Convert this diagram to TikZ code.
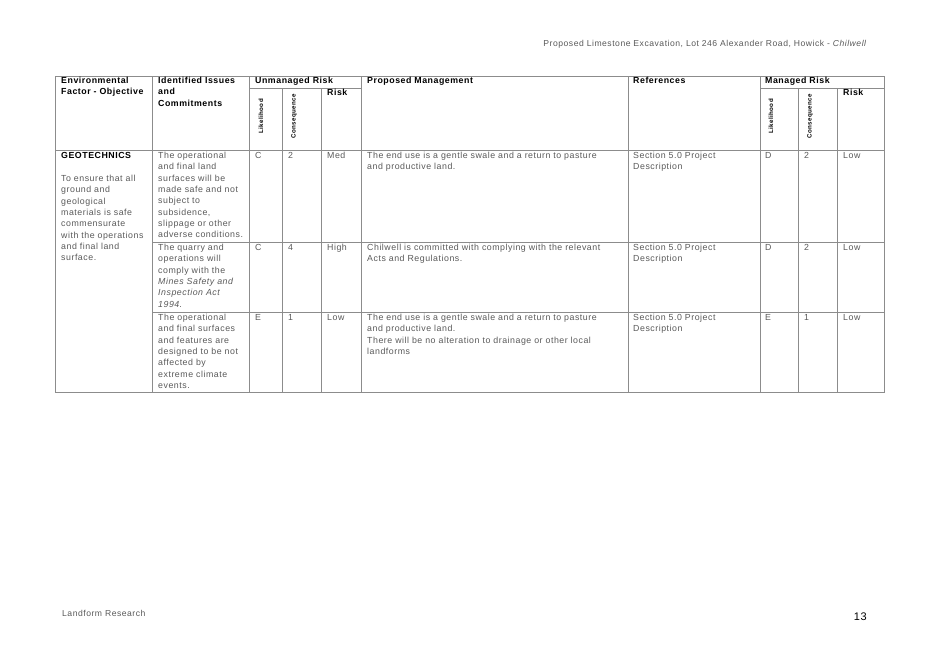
\documentclass[tikz,border=0pt]{standalone}
\usepackage{fontspec}
\setmainfont[LetterSpace=6]{Liberation Sans}
\usetikzlibrary{positioning}
\definecolor{rule}{gray}{0.55}
\definecolor{ink}{gray}{0.35}
\tikzset{
  cell/.style={anchor=north west, inner sep=0pt, align=left, font=\fontsize{8.8}{11.3}\selectfont, text=ink},
  head/.style={cell, font=\fontsize{8.8}{11.3}\selectfont\bfseries, text=black},
  vert/.style={rotate=90, anchor=east, inner sep=0pt, font=\fontsize{6.2}{7}\selectfont\bfseries, text=black},
  grid/.style={draw=rule, line width=0.7pt}
}
\begin{document}
\begin{tikzpicture}[x=1pt,y=-1pt]
\useasboundingbox (0,0) rectangle (929,657);

% running head
\node[anchor=east, inner sep=0pt, font=\fontsize{8.6}{10}\selectfont, text=ink] (runhead) at (867,44)
  {Proposed Limestone Excavation, Lot 246 Alexander Road, Howick - \textit{Chilwell}};

% table frame
\draw[grid] (55,76) rectangle (884,392);
\draw[grid] (55,150) -- (884,150);
\draw[grid] (249,88) -- (361,88);
\draw[grid] (760,88) -- (884,88);
\draw[grid] (152,242) -- (884,242);
\draw[grid] (152,312) -- (884,312);
\foreach \x in {152,249,361,628,760}
  \draw[grid] (\x,76) -- (\x,392);
\foreach \x in {282,321,798,837}
  \draw[grid] (\x,88) -- (\x,392);

% header
\node[head] (hEnv) at (61,77) {Environmental\\Factor - Objective};
\node[head] (hIss) at (158,77) {Identified Issues\\and\\Commitments};
\node[head] (hUnm) at (255,77) {Unmanaged Risk};
\node[head] (hUR) at (327,89) {Risk};
\node[head] (hPM) at (367,77) {Proposed Management};
\node[head] (hRef) at (633,77) {References};
\node[head] (hMan) at (765,77) {Managed Risk};
\node[head] (hMR) at (843,89) {Risk};
\node[vert] (uL) at (261,99) {Likelihood};
\node[vert] (uC) at (294,94) {Consequence};
\node[vert] (mL) at (771,99) {Likelihood};
\node[vert] (mC) at (810,94) {Consequence};

% factor column
\node[head, text=black] (geo) at (61,152) {GEOTECHNICS};
\node[cell, text width=92pt] (obj) at (61,175) {To ensure that all\\ground and\\geological\\materials is safe\\commensurate\\with the operations\\and final land\\surface.};

% row 1
\node[cell] (i1) at (158,152) {The operational\\and final land\\surfaces will be\\made safe and not\\subject to\\subsidence,\\slippage or other\\adverse conditions.};
\node[cell] (l1) at (255,152) {C};
\node[cell] (c1) at (288,152) {2};
\node[cell] (r1) at (327,152) {Med};
\node[cell] (p1) at (367,152) {The end use is a gentle swale and a return to pasture\\and productive land.};
\node[cell] (f1) at (633,152) {Section 5.0 Project\\Description};
\node[cell] (ml1) at (765,152) {D};
\node[cell] (mc1) at (804,152) {2};
\node[cell] (mr1) at (843,152) {Low};

% row 2
\node[cell] (i2) at (158,244) {The quarry and\\operations will\\comply with the\\\textit{Mines Safety and}\\\textit{Inspection Act}\\\textit{1994}.};
\node[cell] (l2) at (255,244) {C};
\node[cell] (c2) at (288,244) {4};
\node[cell] (r2) at (327,244) {High};
\node[cell] (p2) at (367,244) {Chilwell is committed with complying with the relevant\\Acts and Regulations.};
\node[cell] (f2) at (633,244) {Section 5.0 Project\\Description};
\node[cell] (ml2) at (765,244) {D};
\node[cell] (mc2) at (804,244) {2};
\node[cell] (mr2) at (843,244) {Low};

% row 3
\node[cell] (i3) at (158,314) {The operational\\and final surfaces\\and features are\\designed to be not\\affected by\\extreme climate\\events.};
\node[cell] (l3) at (255,314) {E};
\node[cell] (c3) at (288,314) {1};
\node[cell] (r3) at (327,314) {Low};
\node[cell] (p3) at (367,314) {The end use is a gentle swale and a return to pasture\\and productive land.\\There will be no alteration to drainage or other local\\landforms};
\node[cell] (f3) at (633,314) {Section 5.0 Project\\Description};
\node[cell] (ml3) at (765,314) {E};
\node[cell] (mc3) at (804,314) {1};
\node[cell] (mr3) at (843,314) {Low};

% footer
\node[anchor=west, inner sep=0pt, font=\fontsize{8.6}{10}\selectfont, text=ink] (foot) at (62,613) {Landform Research};
\node[anchor=east, inner sep=0pt, font=\fontsize{11}{12}\selectfont] (pageno) at (867,617) {13};
\end{tikzpicture}
\end{document}
